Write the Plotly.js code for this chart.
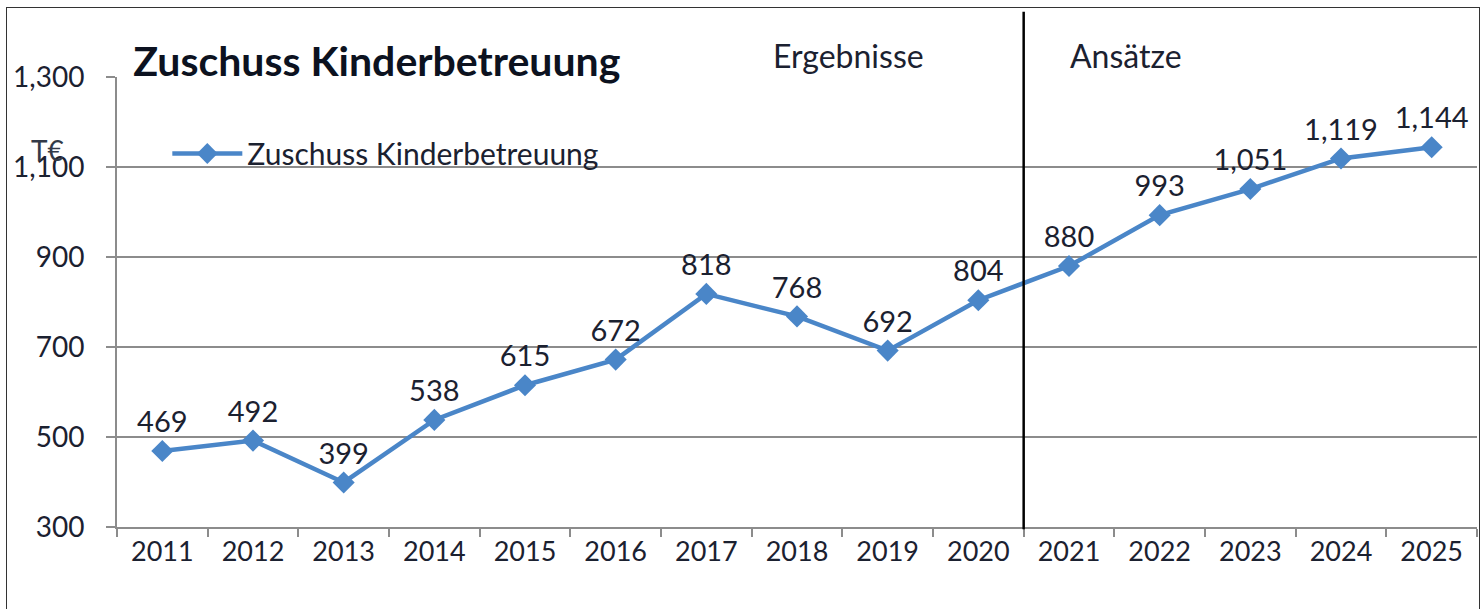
<!DOCTYPE html>
<html>
<head>
<meta charset="utf-8">
<script src="https://cdn.plot.ly/plotly-3.0.1.min.js"></script>
<style>
  html, body { margin: 0; padding: 0; background: #fff; overflow: hidden; }
  #frame { position: absolute; left: 6px; top: 7px; width: 1474px; height: 640px; border: 1.5px solid #333; box-sizing: border-box; pointer-events: none; z-index: 5; }
  #chart { position: absolute; left: 0; top: 0; width: 1484px; height: 609px; }
</style>
</head>
<body>
<div id="chart"></div>
<div id="frame"></div>
<script>
const years = ['2011','2012','2013','2014','2015','2016','2017','2018','2019','2020','2021','2022','2023','2024','2025'];
const values = [469, 492, 399, 538, 615, 672, 818, 768, 692, 804, 880, 993, 1051, 1119, 1144];
const yTicks = [300, 500, 700, 900, 1100, 1300];
const seriesName = 'Zuschuss Kinderbetreuung';
const chartTitle = 'Zuschuss Kinderbetreuung';
const unitLabel = 'T€';
const periodLabels = ['Ergebnisse', 'Ansätze'];
const splitAfterIndex = 9; // between 2020 and 2021

const FONT = 'Lato, "Open Sans", sans-serif';
const TXT = '#1b2130';
const GRID = '#8c8c8c';
const BLUE = '#4a86c8';

const labels = values.map(v => v.toLocaleString('en-US'));

const trace = {
  x: years,
  y: values,
  type: 'scatter',
  mode: 'lines+markers+text',
  name: seriesName,
  text: labels,
  textposition: 'top center',
  textfont: { family: FONT, size: 29, color: TXT },
  cliponaxis: false,
  line: { color: BLUE, width: 4.5 },
  marker: { symbol: 'diamond', size: 17, color: BLUE }
};

const layout = {
  width: 1484,
  height: 609,
  margin: { l: 117, r: 7, t: 77, b: 82 },
  paper_bgcolor: '#fff',
  plot_bgcolor: '#fff',
  font: { family: FONT, color: TXT, size: 27 },
  title: {
    text: '<b>' + chartTitle + '</b>',
    font: { family: FONT, size: 41, color: '#0c1220' },
    xref: 'paper', x: 0.012, xanchor: 'left',
    yref: 'container', y: 0.898, yanchor: 'middle'
  },
  showlegend: true,
  legend: {
    x: 0.037, xanchor: 'left',
    y: 0.83, yanchor: 'middle',
    bgcolor: 'rgba(0,0,0,0)',
    font: { family: FONT, size: 30, color: TXT },
    itemwidth: 70,
    tracegroupgap: 0
  },
  xaxis: {
    type: 'category',
    range: [-0.5, years.length - 0.5],
    showgrid: false,
    showline: true, linecolor: GRID, linewidth: 2,
    ticks: 'outside', tickson: 'boundaries', ticklen: 8, tickwidth: 2, tickcolor: GRID,
    tickfont: { family: FONT, size: 27, color: TXT },
    zeroline: false,
    fixedrange: true
  },
  yaxis: {
    range: [300, 1300],
    tickvals: yTicks,
    tickformat: ',d',
    showgrid: true, gridcolor: GRID, gridwidth: 2,
    showline: true, linecolor: GRID, linewidth: 2,
    ticks: 'outside', ticklen: 9, tickwidth: 2, tickcolor: GRID,
    tickfont: { family: FONT, size: 28, color: TXT },
    ticklabelstandoff: 16,
    zeroline: false,
    fixedrange: true
  },
  shapes: [{
    type: 'line', xref: 'x', yref: 'paper',
    x0: splitAfterIndex + 0.5, x1: splitAfterIndex + 0.5,
    y0: -0.005, y1: 1.145,
    line: { color: '#000', width: 2.5 }
  }],
  annotations: [
    { text: periodLabels[0], xref: 'paper', yref: 'paper', x: 0.5375, y: 1.047,
      xanchor: 'center', yanchor: 'middle', showarrow: false,
      font: { family: FONT, size: 32, color: TXT } },
    { text: periodLabels[1], xref: 'paper', yref: 'paper', x: 0.742, y: 1.047,
      xanchor: 'center', yanchor: 'middle', showarrow: false,
      font: { family: FONT, size: 32, color: TXT } },
    { text: unitLabel, xref: 'paper', yref: 'paper', x: -0.051, y: 0.838,
      xanchor: 'center', yanchor: 'middle', showarrow: false,
      font: { family: FONT, size: 28, color: '#333a48' } }
  ]
};

Plotly.newPlot('chart', [trace], layout, { displayModeBar: false, staticPlot: true });
</script>
</body>
</html>
